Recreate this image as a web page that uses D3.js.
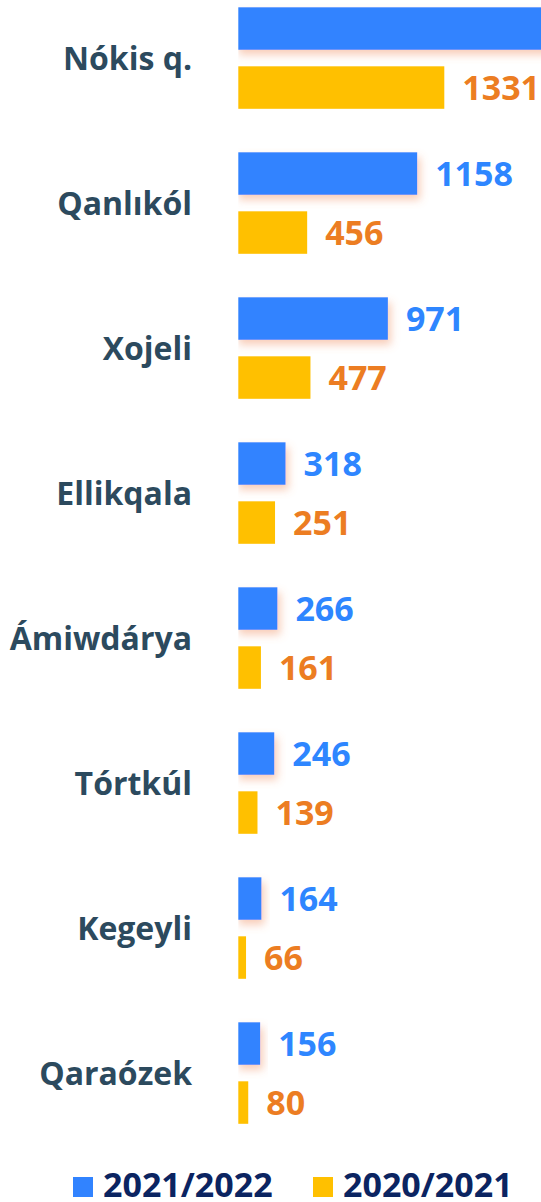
<!DOCTYPE html>
<html><head><meta charset="utf-8">
<script src="https://cdn.jsdelivr.net/npm/d3@7"></script>
<style>html,body{margin:0;padding:0;background:#fff;overflow:hidden}</style>
</head><body>
<script>
const categories = ["Nókis q.","Qanlıkól","Xojeli","Ellikqala","Ámiwdárya","Tórtkúl","Kegeyli","Qaraózek"];
const seriesNames = ["2021/2022","2020/2021"];
const values2122 = [2150,1158,971,318,266,246,164,156];
const values2021 = [1331,456,477,251,161,139,66,80];
const seriesValues = [values2122, values2021];
const barColors = ["#3183FF","#FFC000"];
const labelColors = ["#2E86FF","#EC7D22"];

const W = 541, H = 1202;
const svg = d3.select("body").append("svg").attr("width",W).attr("height",H);
const defs = svg.append("defs");
const f = defs.append("filter").attr("id","sh").attr("x","-20%").attr("y","-40%").attr("width","150%").attr("height","200%");
f.append("feDropShadow").attr("dx",3).attr("dy",5).attr("stdDeviation",4).attr("flood-color","#F09060").attr("flood-opacity",0.45);
defs.append("clipPath").attr("id","cl").append("rect").attr("x",238.3).attr("y",0).attr("width",W).attr("height",H);

const x = d3.scaleLinear().domain([0,1331]).range([235.7,444.3]);
const y0 = d3.scaleBand().domain(categories).range([7.3,7.3+145*8]).paddingInner(0).paddingOuter(0);
const y1 = d3.scaleBand().domain([0,1]).range([0,101.5]).paddingInner(0.28).paddingOuter(0);

const font = "'Open Sans', 'Noto Sans', sans-serif";
const g = svg.append("g").attr("clip-path","url(#cl)");
const rows = [];
categories.forEach((c,i)=>{ [0,1].forEach(s=>rows.push({c, s, v: seriesValues[s][i]})); });

g.selectAll("rect.bar").data(rows).join("rect")
  .attr("x", x(0)).attr("y", d=>y0(d.c)+y1(d.s))
  .attr("width", d=>x(d.v)-x(0)).attr("height", y1.bandwidth())
  .attr("fill", d=>barColors[d.s])
  .attr("filter", d=>d.s===0?"url(#sh)":null);

svg.selectAll("text.val").data(rows.filter(d=>x(d.v)+18 < W)).join("text")
  .attr("x", d=>x(d.v)+18).attr("y", d=>y0(d.c)+y1(d.s)+y1.bandwidth()/2)
  .attr("dy","0.36em")
  .attr("font-family",font).attr("font-weight",700).attr("font-size",34)
  .attr("fill", d=>labelColors[d.s]).text(d=>d.v);

svg.selectAll("text.cat").data(categories).join("text")
  .attr("x",192).attr("y", d=>y0(d)+101.5/2).attr("dy","0.36em")
  .attr("text-anchor","end")
  .attr("font-family",font).attr("font-weight",700).attr("font-size",32)
  .attr("fill","#2C4A5E").text(d=>d);

const lg = svg.append("g");
const lx = [73, 313];
seriesNames.forEach((n,i)=>{
  lg.append("rect").attr("x",lx[i]).attr("y",1177).attr("width",20).attr("height",20).attr("fill",barColors[i]);
  lg.append("text").attr("x",lx[i]+30).attr("y",1197)
    .attr("font-family",font).attr("font-weight",700).attr("font-size",34)
    .attr("fill","#0B2461").text(n);
});
</script>
</body></html>
